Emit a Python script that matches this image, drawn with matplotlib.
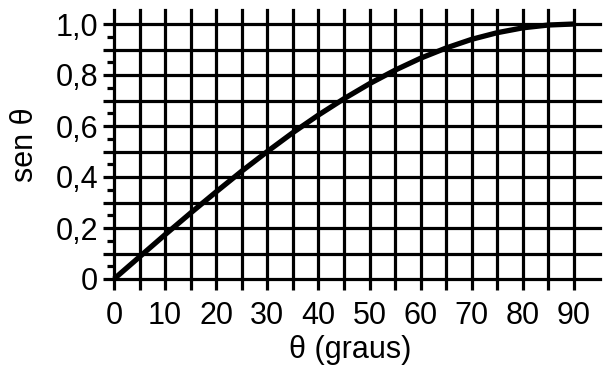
import matplotlib
matplotlib.use("Agg")
import matplotlib.pyplot as plt
from matplotlib.ticker import FixedLocator

plt.rcParams['font.family'] = ['Liberation Sans', 'DejaVu Sans']

theta_deg = [0, 5, 10, 15, 20, 25, 30, 35, 40, 45, 50, 55, 60, 65, 70, 75, 80, 85, 90]
sen_theta = [0.0, 0.087, 0.174, 0.259, 0.342, 0.423, 0.5, 0.574, 0.643, 0.707,
             0.766, 0.819, 0.866, 0.906, 0.940, 0.966, 0.985, 0.996, 1.0]
x_tick_values = [0, 10, 20, 30, 40, 50, 60, 70, 80, 90]
y_tick_values = [0, 0.2, 0.4, 0.6, 0.8, 1.0]
y_tick_labels = ['0', '0,2', '0,4', '0,6', '0,8', '1,0']
x_grid = list(range(0, 91, 5))
y_grid = [i / 10 for i in range(11)]

W, H = 603, 367
fig = plt.figure(figsize=(W / 100, H / 100), dpi=100)
left, right, bottom_px, top_px = 114, 600, 279, 10
ax = fig.add_axes([left / W, (H - bottom_px) / H, (right - left) / W, (bottom_px - top_px) / H])

px_per_deg = (574 - 114) / 90
px_per_unit = 279 - 24
ax.set_xlim(0, (right - left) / px_per_deg)
ax.set_ylim(0, (bottom_px - top_px) / px_per_unit)

for s in ax.spines.values():
    s.set_visible(False)

lw = 2.3
for xv in x_grid:
    ax.axvline(xv, color='black', lw=lw, zorder=1, clip_on=False)
for yv in y_grid:
    ax.axhline(yv, color='black', lw=lw, zorder=1, clip_on=False)

ax.plot(theta_deg, sen_theta, color='black', lw=3.8, solid_capstyle='butt', zorder=3, clip_on=False)

fs = 22
ax.xaxis.set_major_locator(FixedLocator(x_grid))
ax.set_xticklabels([str(v) if v in x_tick_values else '' for v in x_grid], fontsize=fs)
ax.yaxis.set_major_locator(FixedLocator(y_grid))
lab_map = dict(zip(y_tick_values, y_tick_labels))
ax.set_yticklabels([lab_map.get(round(v, 1), '') for v in y_grid], fontsize=fs)
ax.yaxis.set_minor_locator(FixedLocator([0.05 + i / 10 for i in range(10)]))

ax.tick_params(axis='x', which='major', length=8, width=lw, direction='out', pad=7.5)
ax.tick_params(axis='y', which='major', length=8, width=lw, direction='out', pad=3.5)
ax.tick_params(axis='y', which='minor', length=5, width=lw, direction='out')

fig.text(350 / W, 1 - 350 / H, 'θ (graus)', fontsize=fs, ha='center', va='center')
fig.text(25 / W, 1 - 145 / H, 'sen θ', fontsize=fs, ha='center', va='center', rotation=90)

fig.savefig('out.png', dpi=100)
